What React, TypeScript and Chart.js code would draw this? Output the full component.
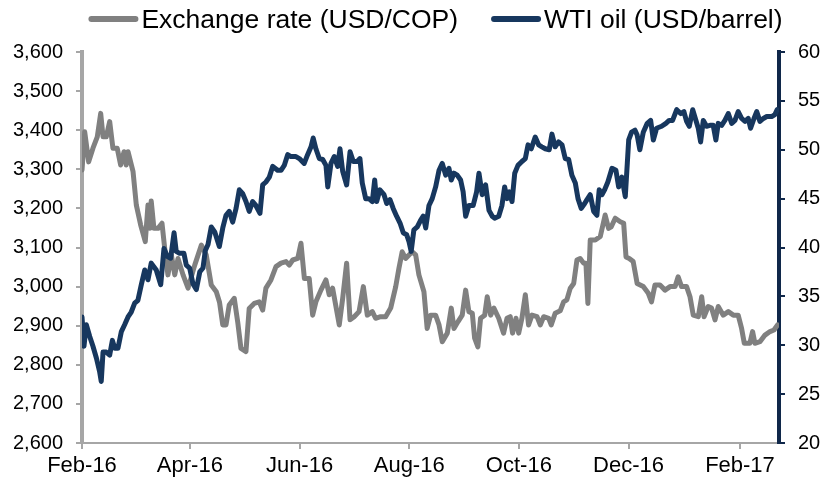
import React, { useEffect, useRef } from "react";
import { Chart, registerables } from "chart.js";

Chart.register(...registerables);

// x positions are days since 1 Feb 2016
const xTickDays = [0, 60, 121, 182, 243, 304, 366];
const xTickLabels = ["Feb-16", "Apr-16", "Jun-16", "Aug-16", "Oct-16", "Dec-16", "Feb-17"];

const copDays = [
  0, 1.5, 3.7, 6.1, 8.5, 10.4, 11.7, 13.5, 15.4, 17.2, 19.6, 21.5, 23.4, 24.6, 25.6, 28.4, 30.2, 32.6, 35.2, 36.7,
  37.7, 38.5, 40, 42.3, 44.5, 46, 47.8, 49.7, 51.6, 53.4, 56.2, 59, 62.7, 66.4, 69.1, 71.9, 74.7, 76.5, 78.3, 80.1,
  81.9, 84.7, 86.6, 88.4, 91.2, 93, 95.8, 98.6, 100.5, 102.3, 105.1, 107.9, 110.7, 113.5, 115.3, 117.2, 120, 121.8,
  123.7, 126.4, 128.3, 130.1, 132.9, 135.7, 137.5, 139.4, 143.1, 145, 147.2, 149.1, 151.4, 154.1, 156.5, 158.7,
  161.5, 163.3, 166.1, 168.9, 171.7, 174.5, 176.3, 178.1, 180, 181.9, 183.7, 185.6, 187.4, 190.2, 192, 193.9, 196.7,
  198.6, 200.4, 203.2, 205.4, 206.9, 209.1, 211.5, 213.4, 215.2, 217.1, 218.4, 220.2, 221.7, 224, 225.4, 227.3,
  229.1, 231.8, 234.5, 236.4, 238.2, 239.5, 241.4, 242.9, 244.7, 246.6, 248.4, 250.3, 253.1, 254.9, 256.8, 259.6,
  261, 263.2, 266, 267.9, 269.7, 271.6, 273.5, 275.3, 277.1, 279, 280.3, 281.4, 282.7, 285.5, 288.3, 291, 292.9,
  294.4, 296.6, 299.4, 301.3, 302.6, 304.4, 306.6, 308.8, 312.2, 315, 316.8, 318.7, 321.5, 324.3, 327.1, 329.9,
  331.6, 333.5, 336.3, 338.2, 340, 342.8, 344.7, 346, 348.3, 350.2, 352.1, 353.9, 356.7, 359.5, 362.3, 365, 366.9,
  368.4, 371.5, 373, 374.3, 377.1, 379.9, 382.7, 384.9, 386.9,
];
const copRate = [
  3298, 3396, 3319, 3354, 3383, 3443, 3383, 3383, 3422, 3354, 3354, 3311, 3345, 3311, 3345, 3294, 3209, 3158, 3115, 3209,
  3149, 3219, 3149, 3149, 3162, 3098, 3030, 3081, 3030, 3072, 3030, 2996, 3055, 3106, 3081, 3004, 2987, 2960, 2902, 2902,
  2953, 2970, 2910, 2842, 2834, 2944, 2957, 2961, 2940, 2996, 3017, 3051, 3060, 3064, 3055, 3068, 3072, 3111,
  3021, 3021, 2927, 2961, 2991, 3017, 2979, 2996, 2902, 2970, 3060, 2915, 2923, 2936, 3000, 2927,
  2936, 2919, 2923, 2923, 2945, 3000, 3047, 3089, 3072, 3081, 3089, 3081, 3030, 2987, 2893, 2927, 2927,
  2902, 2859, 2881, 2945, 2893, 2910, 2927, 2991, 2936, 2932, 2868, 2846, 2919, 2927, 2974, 2927,
  2945, 2919, 2881, 2919, 2923, 2881, 2919, 2881, 2919, 2979, 2902, 2927, 2923, 2902, 2923, 2919,
  2902, 2932, 2938, 2961, 2966, 2996, 3008, 3068, 3072, 3060, 3060, 2957, 3119, 3119, 3128, 3183, 3149,
  3153, 3175, 3166, 3162, 3076, 3072, 3064, 3008, 3000, 2983, 2961, 3004, 3004, 2991, 3000, 3000,
  3025, 3000, 3000, 2974, 2927, 2923, 2974, 2923, 2949, 2945, 2915, 2949, 2927, 2936, 2927, 2927, 2893,
  2855, 2855, 2885, 2855, 2859, 2876, 2885, 2889, 2902,
];

const wtiDays = [
  0, 1.1, 2.4, 4.3, 6.1, 8, 9.8, 10.7, 11.7, 13.5, 15.4, 16.9, 18.2, 20, 21.9, 23.7, 25.6, 27.4, 29.3, 31.1, 33, 34.9,
  36.7, 38.5, 41.3, 43.8, 45.6, 47.4, 49.3, 51.2, 52.4, 54.3, 56.7, 58, 59.9, 61.7, 63.6, 65.5, 67.3, 68.6, 70.1,
  71.9, 73.8, 76.4, 78.3, 80.1, 81.9, 83.8, 85.7, 87.5, 89.4, 91.2, 93, 94.9, 96.7, 99, 100.5, 102.3, 104.2, 106.1,
  108.8, 110.7, 112.5, 114.4, 116.2, 119, 120.9, 123.6, 125.5, 127.4, 128.6, 130.1, 132, 133.9, 135.7, 136.7, 138.5,
  140.3, 142.2, 143.5, 145, 147.2, 149.1, 150.9, 153.1, 154.6, 155.9, 157.8, 159.6, 161.5, 162.8, 163.9, 165.7, 168,
  169.5, 171.3, 173.1, 175, 176.9, 178.7, 180.6, 181.9, 183.1, 184.6, 186.5, 188.4, 189.8, 191.2, 193, 194.8, 196.7,
  198.6, 200.4, 202.3, 204.1, 205.4, 206.9, 208.7, 210.6, 212, 213.4, 215.2, 217.6, 219.5, 220.8, 222.6, 224.5,
  226.4, 228.2, 229.5, 231.8, 233.6, 235.1, 236.4, 237.7, 239.2, 240.7, 242.5, 244.7, 246.6, 248.1, 249.9, 252.1,
  254, 255.8, 257.7, 259.9, 261.4, 263.2, 265.1, 267, 268.8, 270.7, 272.5, 274.4, 275.9, 277.7, 279.6, 280.9, 282.7,
  284.6, 286.4, 287.7, 289.2, 290.7, 292.5, 294.8, 297, 298.5, 300.3, 302.2, 304.1, 305.7, 307.6, 308.8, 310.3,
  312.2, 314.4, 316.3, 317.8, 319.6, 322.4, 324.8, 326.6, 328.5, 330.8, 333, 334.8, 336.3, 337.8, 339.7, 341.5,
  342.8, 344.1, 345.6, 347.4, 349.3, 351.1, 352.6, 353.9, 355.8, 357.6, 359.5, 361.4, 363.2, 365, 366.9, 368.8,
  370.6, 371.9, 373.8, 375.3, 377.1, 379, 380.9, 383.6, 385.4, 386.7,
];
const wtiPrice = [
  32.9, 29.9, 32.1, 30.9, 29.9, 28.7, 27.3, 26.3, 29.3, 29.3, 29.0, 30.5, 29.7, 29.7, 31.4, 32.1, 32.9, 33.4, 34.3, 34.6, 36.2, 37.7,
  36.7, 38.4, 37.7, 36.2, 39.9, 39.1, 38.9, 41.5, 39.6, 39.4, 39.4, 38.2, 37.9, 36.3, 35.7, 37.5, 37.9, 39.7, 40.3,
  42.1, 41.6, 40.1, 42.0, 43.3, 43.7, 42.6, 44.0, 45.9, 45.5, 44.7, 43.7, 44.7, 44.3, 43.5, 46.4, 46.7, 47.2, 48.3,
  47.9, 47.9, 48.4, 49.5, 49.3, 49.3, 49.1, 48.6, 49.5, 50.3, 51.2, 50.1, 49.1, 49.0, 48.4, 46.2, 48.6,
  49.3, 48.3, 50.1, 47.8, 46.4, 49.8, 48.8, 48.8, 49.1, 46.6, 45.0, 45.0, 44.7, 46.9, 44.7, 45.9, 45.4,
  44.5, 44.9, 44.0, 43.2, 42.5, 41.5, 41.3, 40.6, 39.6, 41.8, 42.1, 42.8, 43.2, 42.0, 44.3, 45.0, 46.2,
  47.9, 48.6, 47.4, 48.1, 46.9, 47.6, 47.4, 46.9, 45.7, 43.2, 44.3, 44.3, 45.7, 47.6, 45.4, 46.4,
  43.8, 43.2, 43.0, 43.2, 44.3, 46.2, 45.0, 45.7, 44.7, 47.6, 48.4, 48.8, 49.1, 50.5, 50.1, 51.3,
  50.5, 50.3, 50.1, 50.0, 51.6, 50.3, 50.8, 50.5, 49.1, 49.0, 47.4, 46.6, 45.0, 44.0, 44.5, 44.9, 45.4,
  43.7, 43.3, 45.9, 45.4, 45.9, 46.7, 48.1, 47.9, 46.2, 47.2, 45.2, 51.0, 51.8, 52.0, 51.5, 50.0,
  51.8, 52.7, 53.0, 51.0, 52.2, 52.4, 52.7, 53.0, 53.0, 54.1, 53.7, 53.9, 52.9, 52.4, 54.1, 53.0,
  52.2, 50.8, 53.0, 52.4, 52.5, 52.5, 51.0, 52.7, 52.5, 53.0, 53.7, 52.7, 53.0, 53.9, 53.2, 52.9,
  53.2, 52.2, 53.2, 53.9, 52.9, 53.2, 53.4, 53.4, 53.6, 54.1,
];

const FONT = '"Liberation Sans", Arial, Helvetica, sans-serif';
const GRAY = "#808080";
const NAVY = "#17375E";
const AXIS_GRAY = "#A6A6A6";
const AXIS_NAVY = "#10284A";

const topLegend = {
  id: "topLegend",
  afterDraw(chart: any) {
    const ctx = chart.ctx as CanvasRenderingContext2D;
    ctx.save();
    ctx.font = `26.5px ${FONT}`;
    const markerW = 50;
    const markerGap = 3;
    const itemGap = 33;
    const items = chart.data.datasets.map((ds: any) => ({
      label: ds.label as string,
      color: ds.borderColor as string,
      w: ctx.measureText(ds.label).width,
    }));
    const total =
      items.reduce((s: number, it: any) => s + markerW + markerGap + it.w, 0) + itemGap * (items.length - 1);
    let x = 435.5 - total / 2;
    for (const it of items) {
      ctx.strokeStyle = it.color;
      ctx.lineWidth = 6;
      ctx.lineCap = "round";
      ctx.beginPath();
      ctx.moveTo(x + 3, 19);
      ctx.lineTo(x + markerW - 3, 19);
      ctx.stroke();
      x += markerW + markerGap;
      ctx.fillStyle = "#000";
      ctx.textBaseline = "alphabetic";
      ctx.textAlign = "left";
      ctx.fillText(it.label, x, 28);
      x += it.w + itemGap;
    }
    ctx.restore();
  },
};

export default function App() {
  const ref = useRef<HTMLCanvasElement | null>(null);
  useEffect(() => {
    if (!ref.current) return;
    const chart = new Chart(ref.current, {
      type: "line",
      data: {
        datasets: [
          {
            label: "Exchange rate (USD/COP)",
            data: copDays.map((d, i) => ({ x: d, y: copRate[i] })),
            borderColor: GRAY,
            backgroundColor: GRAY,
            borderWidth: 5,
            pointRadius: 0,
            tension: 0,
            borderJoinStyle: "round",
            borderCapStyle: "round",
            yAxisID: "y",
            order: 1,
          },
          {
            label: "WTI oil (USD/barrel)",
            data: wtiDays.map((d, i) => ({ x: d, y: wtiPrice[i] })),
            borderColor: NAVY,
            backgroundColor: NAVY,
            borderWidth: 5,
            pointRadius: 0,
            tension: 0,
            borderJoinStyle: "round",
            borderCapStyle: "round",
            yAxisID: "y1",
            order: 0,
          },
        ],
      },
      options: {
        animation: false,
        responsive: true,
        maintainAspectRatio: false,
        layout: { padding: { top: 52, left: 0, right: 0, bottom: 0 } },
        plugins: { legend: { display: false }, tooltip: { enabled: false } },
        scales: {
          x: {
            type: "linear",
            min: 0,
            max: 387.7,
            afterBuildTicks: (s: any) => {
              s.ticks = xTickDays.map((v) => ({ value: v }));
            },
            afterFit: (s: any) => {
              s.height = 42;
            },
            ticks: {
              autoSkip: false,
              maxRotation: 0,
              padding: 4,
              color: "#000",
              font: { family: FONT, size: 22 },
              callback: (v: any) => {
                const i = xTickDays.indexOf(Number(v));
                return i >= 0 ? xTickLabels[i] : "";
              },
            },
            grid: { drawOnChartArea: false, drawTicks: true, tickLength: 6, color: AXIS_GRAY, lineWidth: 2 },
            border: { display: true, color: AXIS_GRAY, width: 2 },
          },
          y: {
            position: "left",
            min: 2600,
            max: 3600,
            afterFit: (s: any) => {
              s.width = 82;
            },
            ticks: {
              stepSize: 100,
              padding: 13,
              color: "#000",
              font: { family: FONT, size: 20 },
              callback: (v: any) => Number(v).toLocaleString("en-US"),
            },
            grid: { drawOnChartArea: false, drawTicks: true, tickLength: 6, color: AXIS_GRAY, lineWidth: 2 },
            border: { display: true, color: AXIS_GRAY, width: 4 },
          },
          y1: {
            position: "right",
            min: 20,
            max: 60,
            afterFit: (s: any) => {
              s.width = 46;
            },
            ticks: {
              stepSize: 5,
              padding: 13,
              color: "#000",
              font: { family: FONT, size: 20 },
            },
            grid: { drawOnChartArea: false, drawTicks: true, tickLength: 6, color: AXIS_NAVY, lineWidth: 2 },
            border: { display: true, color: AXIS_NAVY, width: 4 },
          },
        },
      },
      plugins: [topLegend],
    } as any);
    return () => chart.destroy();
  }, []);
  return (
    <div style={{ position: "fixed", left: 0, top: 0, width: 825, height: 485, background: "#fff" }}>
      <canvas ref={ref} />
    </div>
  );
}
